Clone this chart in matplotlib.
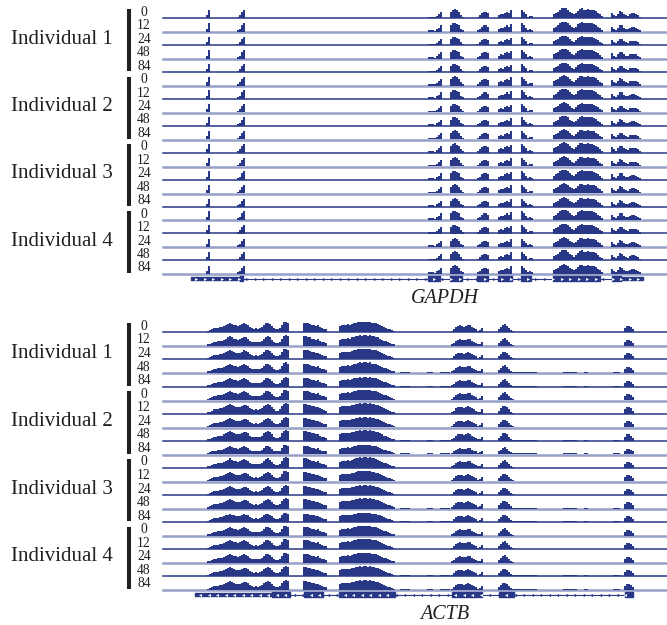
import numpy as np
import matplotlib.pyplot as plt

plt.rcParams['font.family'] = ['Liberation Serif', 'DejaVu Serif']

# labels
individuals = ['Individual 1', 'Individual 2', 'Individual 3', 'Individual 4']
timepoints = ['0', '12', '24', '48', '84']

# coverage profiles: (track position of first bin, heights per 2-unit bin)
gapdh_cov = [
    (206, [3, 8]),
    (237, [1.5, 3, 6, 8]),
    (428, [1.5, 1.5, 1.5, 1, 2.5, 4, 6]),
    (450, [6, 8, 8.5, 7.5, 6, 3, 1.5]),
    (477, [1.5, 3, 5, 6, 6, 5]),
    (498, [3, 4, 3.5, 5, 6, 5, 7.5]),
    (521, [8, 6, 4, 1.5, 2.5, 2]),
    (553, [4, 5, 6, 8, 9, 9.5, 9, 8, 6, 4.5, 3.5, 5, 7, 8.5, 9, 8, 8, 8.5,
           8, 8, 7.5, 6.5, 5, 3.5, 2]),
    (611, [5, 3, 2, 4, 6.5, 6, 4, 3, 2.5, 4, 4.5, 4.5, 4, 3, 1.5]),
]
actb_cov = [
    (207, [1.5, 2, 3, 4, 4, 4.5, 5, 5, 6, 7, 8, 9, 8, 7, 6.5, 6, 6.5, 7.5,
           8.5, 8, 7, 5, 4, 3.5, 4, 3.5, 4, 5, 7, 8.5, 9, 8, 6, 4, 3, 3, 4,
           7, 9.5, 10, 9]),
    (303, [9, 9, 8.5, 8, 7, 7, 6, 6.5, 5, 4, 3.5, 3]),
    (339, [6, 7, 7, 7, 7.5, 7, 8, 8.5, 9, 9.5, 10, 9.5, 10, 10, 9.5, 10, 9,
           9, 8.5, 8, 7, 6, 5, 4.5, 3.5, 3, 2, 1.5]),
    (451, [1.5, 3, 5, 6, 6.5, 6, 5.5, 6, 7, 6.5, 5, 4, 3, 1.5, 2, 4]),
    (498, [3, 5, 7, 7.5, 6, 4, 2, 1]),
    (624, [4, 6, 6, 5, 3]),
]
# low background reads seen in the 48 h and 84 h ACTB tracks
actb_background = [(400, 410), (427, 433), (440, 450), (514, 537),
                   (563, 577), (584, 588), (613, 620)]

# relative depth of each of the 20 tracks
gapdh_scale = [1.1, 1.05, 1.0, 1.05, 1.0, 1.1, 1.1, 1.05, 1.05, 1.05,
               1.1, 1.05, 1.05, 1.05, 1.0, 1.1, 1.05, 1.05, 1.1, 1.0]
actb_scale = [1.05, 1.05, 1.05, 1.05, 0.95, 1.05, 1.05, 1.0, 1.05, 0.95,
              1.05, 1.05, 1.0, 1.05, 0.95, 1.0, 1.05, 1.0, 1.0, 0.95]

# gene models
gapdh_exons = [(240, 243), (428, 440), (450, 462), (477, 488), (498, 512),
               (521, 531), (553, 600), (612, 621)]
gapdh_utr = [(191, 240), (621, 643)]
actb_exons = [(272, 290), (304, 323), (339, 395), (452, 482), (499, 514),
              (625, 633)]
actb_utr = [(195, 272)]

navy = '#283886'
light = '#97a0c8'
W, H = 667, 625

fig = plt.figure(figsize=(W / 100, H / 100), dpi=100)


def panel(top, bottom, row0, step, cov, scale, exons, utr, strand, name,
          background=None):
    ax = fig.add_axes([0, 1 - bottom / H, 1, (bottom - top) / H])
    ax.set_xlim(0, W)
    ax.set_ylim(-(bottom - row0) / step, (row0 - top) / step)
    ax.axis('off')
    k = 1 / step
    for i in range(20):
        base = -i
        if i % 2 == 0:
            ax.plot([163, W], [base, base], color=navy, lw=1.1, zorder=2)
        else:
            ax.plot([163, W], [base - 0.03, base - 0.03], color=light, lw=1.8,
                    zorder=1)
        for start, h in cov:
            h = np.array(h, dtype=float) * scale[i] * k
            x = start + 2 * np.arange(len(h) + 1)
            y = np.append(h, h[-1])
            ax.fill_between(x, base, base + y, step='post', color=navy,
                            lw=0, zorder=3)
        if background is not None and i % 5 >= 3:
            for a, b in background:
                ax.fill_between([a, b], base, base + 1.0 * k, color=navy,
                                lw=0, zorder=3)
        ax.text(144, base + 0.18, timepoints[i % 5], ha='center',
                va='baseline', fontsize=9.8, color='#231f20')
    for g in range(4):
        ax.plot([129, 129], [-(5 * g + 4) + 0.06, -5 * g + 0.66],
                color='#231f20', lw=2.9, solid_capstyle='butt')
        ax.text(62, -(5 * g + 1.9), individuals[g], ha='center',
                va='baseline', fontsize=15, color='#231f20')

    # gene model
    gy = -19.35
    lo = min(s for s, e in exons + utr)
    hi = max(e for s, e in exons + utr)
    ax.plot([lo, hi], [gy, gy], color=navy, lw=0.8, zorder=2)
    hx = 2.2 * k
    hu = 1.4 * k
    ax.broken_barh([(s, e - s) for s, e in exons], (gy - hx, 2 * hx),
                   color=navy, zorder=3)
    ax.broken_barh([(s, e - s) for s, e in utr], (gy - hu, 2 * hu),
                   color=navy, zorder=3)
    marker = '>' if strand > 0 else '<'
    for xm in np.arange(lo + 5, hi - 3, 8.5):
        inside = any(s <= xm <= e for s, e in exons + utr)
        ax.plot(xm, gy, marker=marker, ms=2.2, mew=0,
                color='white' if inside else navy, zorder=4)
    ax.text(445, gy - 1.45, name, ha='center', va='center', fontsize=14.5,
            style='italic', color='#231f20')
    return ax


panel(0, 310, 18.3, 13.45, gapdh_cov, gapdh_scale, gapdh_exons, gapdh_utr,
      1, 'GAPDH')
panel(310, 625, 332.3, 13.56, actb_cov, actb_scale, actb_exons, actb_utr,
      -1, 'ACTB', background=actb_background)

fig.savefig('out.png', dpi=100)
